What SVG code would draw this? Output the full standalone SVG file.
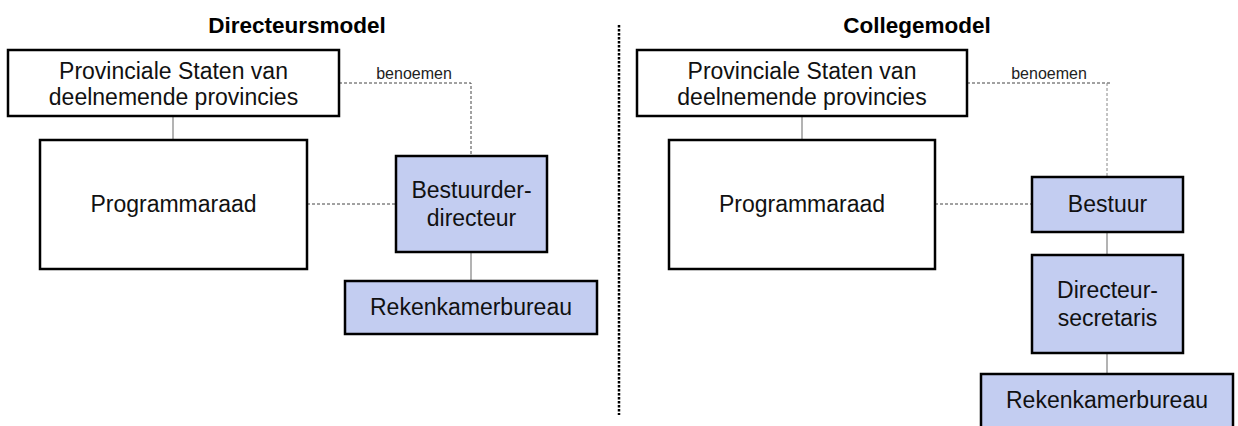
<svg xmlns="http://www.w3.org/2000/svg" width="1238" height="426" viewBox="0 0 1238 426">
<style>
.box{fill:#ffffff;stroke:#000;stroke-width:2.5}
.blue{fill:#c3cdf1;stroke:#000;stroke-width:2.5}
.t{font-family:"Liberation Sans",Arial,sans-serif;font-size:23px;fill:#111;text-anchor:middle}
.title{font-family:"Liberation Sans",Arial,sans-serif;font-size:22.5px;font-weight:bold;fill:#000;text-anchor:middle}
.small{font-family:"Liberation Sans",Arial,sans-serif;font-size:16px;fill:#222;text-anchor:middle}
.solid{stroke:#808080;stroke-width:1.2;fill:none}
.dash{stroke:#444;stroke-width:1;stroke-dasharray:3 2;fill:none}
.divider{stroke:#000;stroke-width:2.5;stroke-dasharray:2.5 1.5;fill:none}
</style>
<rect width="1238" height="426" fill="#fff"/>
<g id="connectors">
<line class="divider" x1="619" y1="25" x2="619" y2="415"/>
<line class="solid" x1="173" y1="116" x2="173" y2="140"/>
<polyline class="dash" points="339,83 471,83 471,156"/>
<line class="dash" x1="307" y1="204" x2="396" y2="204"/>
<line class="solid" x1="471" y1="252" x2="471" y2="281"/>
<line class="solid" x1="802" y1="116" x2="802" y2="140"/>
<polyline class="dash" points="967,83 1112,83"/>
<line class="dash" x1="1107" y1="83" x2="1107" y2="177" style="stroke:#888"/>
<line class="dash" x1="935" y1="204" x2="1032" y2="204"/>
<line class="solid" x1="1107" y1="232" x2="1107" y2="255"/>
<line class="solid" x1="1107" y1="353" x2="1107" y2="374"/>
</g>
<g id="labels">
<text class="title" x="297" y="33">Directeursmodel</text>
<text class="title" x="917" y="33">Collegemodel</text>
<text class="small" x="414" y="79">benoemen</text>
<text class="small" x="1049" y="79">benoemen</text>
</g>
<g id="ps-left">
<rect class="box" x="8" y="50" width="331" height="66"/>
<text class="t" x="173.5" y="79">Provinciale Staten van</text>
<text class="t" x="173.5" y="105">deelnemende provincies</text>
</g>
<g id="programmaraad-left">
<rect class="box" x="40" y="140" width="267" height="129"/>
<text class="t" x="173.5" y="212">Programmaraad</text>
</g>
<g id="bestuurder-directeur">
<rect class="blue" x="396" y="156" width="151" height="96"/>
<text class="t" x="471.5" y="198">Bestuurder-</text>
<text class="t" x="471.5" y="226">directeur</text>
</g>
<g id="rekenkamerbureau-left">
<rect class="blue" x="345" y="281" width="252" height="53"/>
<text class="t" x="471" y="315">Rekenkamerbureau</text>
</g>
<g id="ps-right">
<rect class="box" x="637" y="50" width="330" height="66"/>
<text class="t" x="802" y="79">Provinciale Staten van</text>
<text class="t" x="802" y="105">deelnemende provincies</text>
</g>
<g id="programmaraad-right">
<rect class="box" x="669" y="140" width="266" height="129"/>
<text class="t" x="802" y="212">Programmaraad</text>
</g>
<g id="bestuur">
<rect class="blue" x="1032" y="177" width="151" height="55"/>
<text class="t" x="1107.5" y="212">Bestuur</text>
</g>
<g id="directeur-secretaris">
<rect class="blue" x="1032" y="255" width="151" height="98"/>
<text class="t" x="1107.5" y="298">Directeur-</text>
<text class="t" x="1107.5" y="326">secretaris</text>
</g>
<g id="rekenkamerbureau-right">
<rect class="blue" x="981" y="374" width="252" height="60"/>
<text class="t" x="1107" y="408">Rekenkamerbureau</text>
</g>
</svg>
